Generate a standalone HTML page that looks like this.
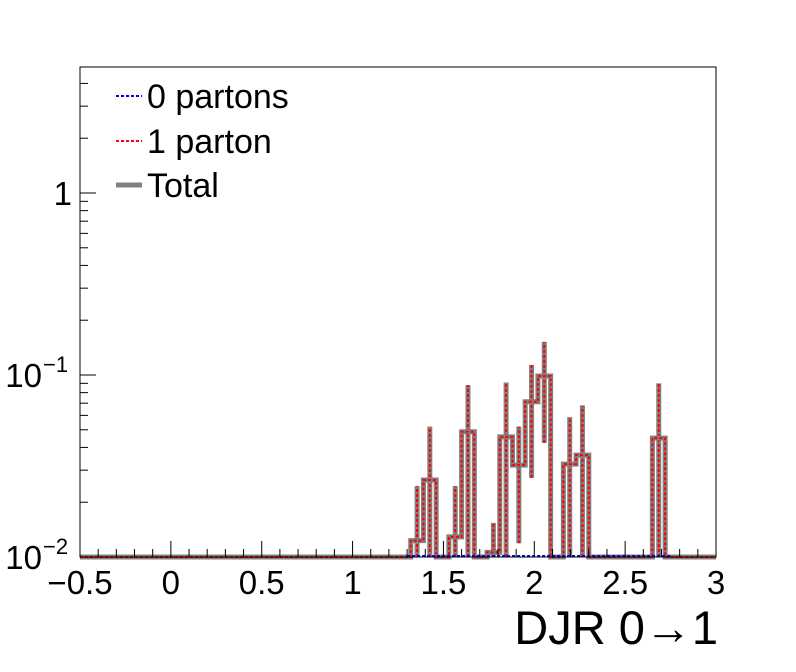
<!DOCTYPE html>
<html><head><meta charset="utf-8"><style>body{margin:0;background:#fff}svg{display:block;font-family:"Liberation Sans",sans-serif}</style></head>
<body>
<svg id="c" width="796" height="672">
<rect x="80" y="67" width="636" height="490" fill="none" stroke="#000" stroke-width="1"/>
<g id="hist"></g><g id="axes"></g>
<g font-size="34">
<line x1="116" y1="96" x2="142" y2="96" stroke="#00f" stroke-width="2" stroke-dasharray="3,2"/>
<text x="147" y="108">0 partons</text>
<line x1="116" y1="141" x2="142" y2="141" stroke="#f00" stroke-width="2" stroke-dasharray="3,2"/>
<text x="147" y="153">1 parton</text>
<line x1="116" y1="185" x2="142" y2="185" stroke="#808080" stroke-width="5"/>
<text x="147" y="197">Total</text>
</g>
<text x="718" y="644" font-size="47" text-anchor="end">DJR 0→1</text>
</svg>
<script>
const binStart=26;
const values=[0.0123,0.0265,0,0.0129,0.0488,0,0.0106,0.0457,0.032,0.0713,0.0988,0,0.0324,0.0363,0,0,0,0,0,0.045,0];
const errHi=[0.0245,0.052,0,0.0245,0.088,0,0.0154,0.091,0.052,0.1135,0.152,0,0.0587,0.068,0,0,0,0,0,0.090,0];
const errLo=[0,0,0,0,0,0,0,0,0.0119,0.0272,0.0424,0,0,0,0,0,0,0,0,0,0];
const xTicks=[-0.5,0,0.5,1,1.5,2,2.5,3];
const xTickLabels=["\u22120.5","0","0.5","1","1.5","2","2.5","3"];
const X0=80,X1=716,Y0=557,Y1=67,xmin=-0.5,xmax=3,nb=50,bw=0.07;
const lmin=-2,lmax=-2+(557-67)/182;
const sx=v=>X0+(v-xmin)/(xmax-xmin)*(X1-X0);
const sy=v=>v<=0.01?Y0:Math.max(Y1,Y0-(Math.log10(v)-lmin)/(lmax-lmin)*(Y0-Y1));
const NS="http://www.w3.org/2000/svg";
function mk(t,a,p){const e=document.createElementNS(NS,t);for(const k in a)e.setAttribute(k,a[k]);p.appendChild(e);return e;}
const H=document.getElementById('hist'),A=document.getElementById('axes');
const val=i=>(i>=binStart&&i<binStart+values.length)?values[i-binStart]:0;
let d="M"+X0+","+Y0;
for(let i=0;i<nb;i++){const y=sy(val(i));d+=" L"+sx(xmin+i*bw)+","+y+" L"+sx(xmin+(i+1)*bw)+","+y;}
d+=" L"+X1+","+Y0;
for(let i=0;i<values.length;i++){if(errHi[i]>0){const cx=sx(xmin+(binStart+i+0.5)*bw);
const e=mk('line',{x1:cx,x2:cx,y1:sy(errLo[i]),y2:sy(errHi[i]),stroke:'#808080','stroke-width':5},H);


const r=mk('line',{x1:cx,x2:cx,y1:sy(errLo[i]),y2:sy(errHi[i]),stroke:'#f00','stroke-width':2,'stroke-dasharray':'3,2'},H);

}}
const t=mk('path',{d:d,fill:'none',stroke:'#808080','stroke-width':5},H);


const r1=mk('path',{d:d,fill:'none',stroke:'#f00','stroke-width':2,'stroke-dasharray':'3,2'},H);


const b0=mk('line',{x1:sx(1.3),x2:sx(2.75),y1:Y0-1,y2:Y0-1,stroke:'#00f','stroke-width':2,'stroke-dasharray':'3,2'},H);


mk('line',{x1:X0,x2:X1,y1:Y0,y2:Y0,stroke:'#000'},A);
for(let k=0;k<=35;k++){const v=xmin+k*0.1,x=sx(v),maj=k%5==0;
const l=mk('line',{x1:x,x2:x,y1:Y0,y2:Y0-(maj?16:8),stroke:'#000'},A);

}
xTicks.forEach((v,i)=>{const tx=mk('text',{x:sx(v),y:594,'font-size':33,'text-anchor':'middle'},A);tx.textContent=xTickLabels[i];

});
for(let p=-2;p<=0;p++)for(let m=1;m<=9;m++){const v=m*Math.pow(10,p),lv=Math.log10(v);if(lv>lmax)continue;
const y=Y0-(lv-lmin)/(lmax-lmin)*(Y0-Y1);
const l=mk('line',{x1:X0,x2:X0+(m==1?16:8),y1:y,y2:y,stroke:'#000'},A);

}
[[-2,"10","\u22122"],[-1,"10","\u22121"],[0,"1",""]].forEach(a=>{const y=Y0-(a[0]-lmin)/(lmax-lmin)*(Y0-Y1);
const tx=mk('text',{x:a[2]?42:72,y:y+12,'font-size':33,'text-anchor':'end'},A);
tx.textContent=a[1];


if(a[2]){const s=mk('text',{x:43,y:y-3,'font-size':22},A);s.textContent=a[2];

}});
</script>
</body></html>
